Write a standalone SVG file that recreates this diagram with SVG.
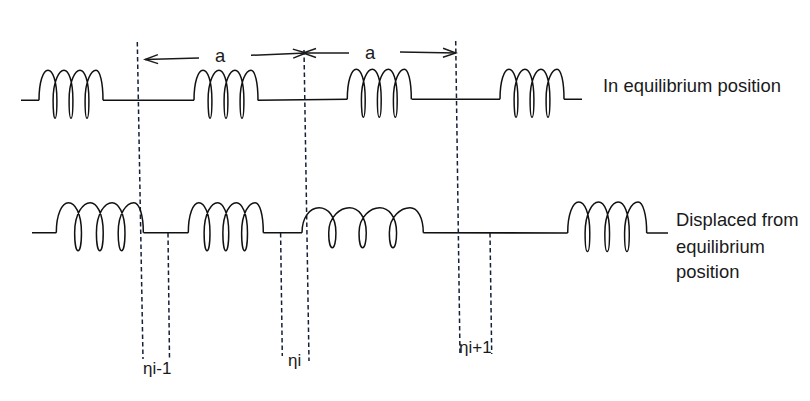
<svg xmlns="http://www.w3.org/2000/svg" xmlns:xlink="http://www.w3.org/1999/xlink" width="810" height="401" viewBox="0 0 810 401">
<style>
.w{fill:none;stroke:#111;stroke-width:1.6}
.c{fill:none;stroke:#111;stroke-width:1.5;vector-effect:non-scaling-stroke}
.d{fill:none;stroke:#14203a;stroke-width:1.5;stroke-dasharray:4.5 3}
.a{fill:none;stroke:#1a1a1a;stroke-width:1.5;marker-end:url(#h)}
text{font-family:"Liberation Sans",Arial,sans-serif;font-size:18.4px;fill:#1a1a1a}
.s{font-size:17px}
</style>
<defs>
<marker id="h" markerUnits="userSpaceOnUse" markerWidth="16" markerHeight="12" refX="14" refY="6" orient="auto"><path d="M1 1.5L14 6L1 10.5" fill="none" stroke="#1a1a1a" stroke-width="1.4"/></marker>
<path id="ca" class="c" d="M0 0C0 -18 4 -30 9 -30C13.5 -30 17.9 -20 17.9 0C17.9 10 17.2 18 16 18C14.8 18 14.1 10 14.1 0C14.1 -20 20.5 -30 25 -30C29.5 -30 33.9 -20 33.9 0C33.9 10 33.2 18 32 18C30.8 18 30.1 10 30.1 0C30.1 -20 36.5 -30 41 -30C45.5 -30 49.9 -20 49.9 0C49.9 10 49.2 18 48 18C46.8 18 46.1 10 46.1 0C46.1 -20 52.5 -30 57 -30C61 -30 64 -18 64 0"/>
<path id="cb" class="c" d="M0 0C0 -18 4 -30 9 -30C13.5 -30 18.5 -20 18.5 0C18.5 10 17.6 18 16 18C14.4 18 13.5 10 13.5 0C13.5 -20 20 -30 25 -30C29.5 -30 34.5 -20 34.5 0C34.5 10 33.6 18 32 18C30.4 18 29.5 10 29.5 0C29.5 -20 36 -30 41 -30C45.5 -30 50.5 -20 50.5 0C50.5 10 49.6 18 48 18C46.4 18 45.5 10 45.5 0C45.5 -20 52 -30 57 -30C61 -30 64 -18 64 0"/>
</defs>
<g id="connectors">
<path class="w" d="M21 100.3H39M103 100.3H194M257.7 100.3L347.3 99.2M411.7 99.2H500M564 99.2H582"/>
<path class="w" d="M32 232.7H56.3M143.5 232.7H188.3M263.3 232.7H302M423.3 232.7L567.7 233M646.7 233H668"/>
<path class="d" d="M137.3 42L143 359"/>
<path class="d" d="M304 50L309 361"/>
<path class="d" d="M455.7 41L460 355"/>
<path class="d" d="M168 233L169.5 359"/>
<path class="d" d="M280.6 233L282.3 356"/>
<path class="d" d="M490 233L491.7 354"/>
<path class="a" d="M199 58L145 59.5"/>
<path class="a" d="M251 55.3L306 53"/>
<path class="a" d="M349 53L303 53"/>
<path class="a" d="M400 52L456 53"/>
</g>
<g id="spring-top-1"><use xlink:href="#ca" href="#ca" transform="translate(39 100.3)"/></g>
<g id="spring-top-2"><use xlink:href="#ca" href="#ca" transform="translate(194 100.3)"/></g>
<g id="spring-top-3"><use xlink:href="#ca" href="#ca" transform="translate(347.3 99.2)"/></g>
<g id="spring-top-4"><use xlink:href="#ca" href="#ca" transform="translate(500 99.2)"/></g>
<g id="spring-bottom-1"><use xlink:href="#cb" href="#cb" transform="translate(56.3 232.7) scale(1.36 1)"/></g>
<g id="spring-bottom-2"><use xlink:href="#cb" href="#cb" transform="translate(188.3 232.7) scale(1.172 1)"/></g>
<g id="spring-bottom-3"><use xlink:href="#ca" href="#ca" transform="translate(302 232.7) scale(1.895 0.83)"/></g>
<g id="spring-bottom-4"><use xlink:href="#ca" href="#ca" transform="translate(567.7 233) scale(1.234 1.03)"/></g>
<g id="labels">
<text x="215" y="62">a</text>
<text x="365" y="59">a</text>
<text x="603" y="92">In equilibrium position</text>
<text x="676" y="226">Displaced from</text>
<text x="676" y="253">equilibrium</text>
<text x="676" y="278">position</text>
<text class="s" x="143" y="374">ηi-1</text>
<text class="s" x="288" y="366">ηi</text>
<text class="s" x="459" y="353">ηi+1</text>
</g>
</svg>
